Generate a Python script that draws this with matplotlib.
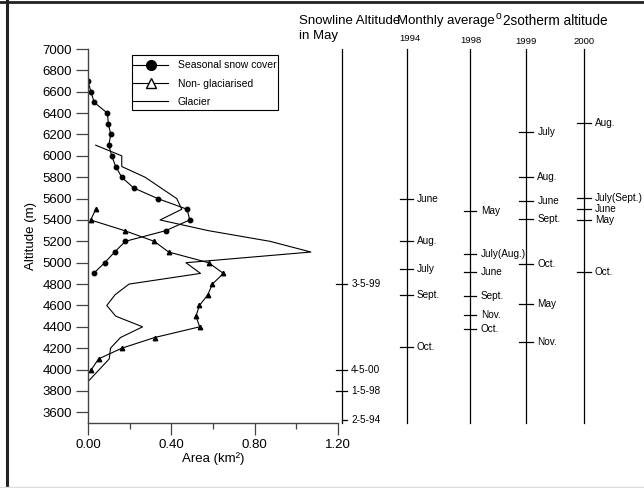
import matplotlib
matplotlib.use("Agg")
import matplotlib.pyplot as plt
from matplotlib.lines import Line2D
from matplotlib.patches import Rectangle

plt.rcParams['font.family'] = ['Liberation Sans', 'DejaVu Sans']

# ---- data ----
snow_alt = [6700, 6600, 6500, 6400, 6300, 6200, 6100, 6000, 5900, 5800, 5700, 5600,
            5500, 5400, 5300, 5200, 5100, 5000, 4900]
snow_area = [0.00, 0.014, 0.03, 0.093, 0.098, 0.109, 0.10, 0.114, 0.133, 0.162, 0.219,
             0.335, 0.476, 0.488, 0.373, 0.179, 0.128, 0.08, 0.027]

nong_alt = [5500, 5400, 5300, 5200, 5100, 5000, 4900, 4800, 4700, 4600, 4500, 4400,
            4300, 4200, 4100, 4000]
nong_area = [0.037, 0.013, 0.176, 0.318, 0.387, 0.579, 0.65, 0.597, 0.575, 0.535,
             0.518, 0.536, 0.32, 0.162, 0.051, 0.016]

glac_alt = [6100, 6000, 5900, 5800, 5600, 5500, 5400, 5300, 5200, 5100, 5000, 4900,
            4800, 4700, 4600, 4500, 4400, 4300, 4200, 4100, 3900]
glac_area = [0.037, 0.162, 0.162, 0.274, 0.426, 0.45, 0.346, 0.578, 0.874, 1.07, 0.47,
             0.54, 0.197, 0.13, 0.09, 0.133, 0.262, 0.156, 0.108, 0.102, 0.006]

snowline_dates = ['3-5-99', '4-5-00', '1-5-98', '2-5-94']
snowline_alt = [4800, 4000, 3800, 3530]

iso_1994_months = ['June', 'Aug.', 'July', 'Sept.', 'Oct.']
iso_1994_alt = [5600, 5200, 4940, 4700, 4210]
iso_1998_months = ['May', 'July(Aug.)', 'June', 'Sept.', 'Nov.', 'Oct.']
iso_1998_alt = [5480, 5080, 4910, 4690, 4510, 4380]
iso_1999_months = ['July', 'Aug.', 'June', 'Sept.', 'Oct.', 'May', 'Nov.']
iso_1999_alt = [6220, 5800, 5575, 5410, 4990, 4610, 4255]
iso_2000_months = ['Aug.', 'July(Sept.)', 'June', 'May', 'Oct.']
iso_2000_alt = [6310, 5610, 5505, 5400, 4910]

years = ['1994', '1998', '1999', '2000']

x_ticks = [0.0, 0.4, 0.8, 1.2]
x_ticklabels = ['0.00', '0.40', '0.80', '1.20']
y_ticks = list(range(3600, 7001, 200))

# ---- figure ----
W, H = 644, 488
fig = plt.figure(figsize=(W / 100, H / 100), dpi=100)
left, right, bottom, top = 88, 338, 423, 49
ax = fig.add_axes([left / W, 1 - bottom / H, (right - left) / W, (bottom - top) / H])

ax.plot(snow_area, snow_alt, color='black', lw=0.8, marker='o', ms=3.2,
        mfc='black', mec='black')
ax.plot(nong_area, nong_alt, color='black', lw=0.8, marker='^', ms=3.2,
        mfc='black', mec='black')
ax.plot(glac_area, glac_alt, color='black', lw=0.8)

ax.set_xlim(0, 1.2)
ax.set_ylim(3500, 7000)
ax.set_xticks(x_ticks)
ax.set_xticklabels(x_ticklabels)
ax.set_xticks([0.2, 0.6, 1.0], minor=True)
ax.set_yticks(y_ticks)
for s in ['top', 'right']:
    ax.spines[s].set_visible(False)
for s in ['left', 'bottom']:
    ax.spines[s].set_color('#444444')
    ax.spines[s].set_linewidth(1.0)
ax.tick_params(axis='both', which='major', direction='out', length=8.5, width=0.9,
               color='#444444', labelsize=9.5, pad=3)
ax.tick_params(axis='x', which='minor', direction='out', length=4, width=0.9,
               color='#444444')
ax.set_ylabel('Altitude (m)', fontsize=9.5, labelpad=4)
ax.set_xlabel('Area (km²)', fontsize=9.5, labelpad=1)

handles = [
    Line2D([], [], color='black', lw=0.8, marker='o', ms=7, mfc='black'),
    Line2D([], [], color='black', lw=0.8, marker='^', ms=7, mfc='white', mec='black'),
    Line2D([], [], color='black', lw=0.8),
]
leg = ax.legend(handles, ['Seasonal snow cover', 'Non- glaciarised', 'Glacier'],
                loc='upper left', bbox_to_anchor=(133 / W, 1 - 60.5 / H),
                bbox_transform=fig.transFigure, borderaxespad=0, fontsize=7.5,
                handlelength=3.4, handletextpad=0.9, labelspacing=0.78,
                borderpad=0.0, frameon=False)
fig.add_artist(Rectangle((132 / W, 1 - 109.5 / H), (277.5 - 132) / W, (109.5 - 55) / H,
                         transform=fig.transFigure, fill=False, edgecolor='black',
                         lw=0.8))

# ---- right-side altitude columns (same altitude scale) ----
ov = fig.add_axes([0, 1 - bottom / H, 1, (bottom - top) / H])
ov.set_xlim(0, W)
ov.set_ylim(3500, 7000)
ov.axis('off')

columns = [
    (341.7, snowline_dates, snowline_alt, 5.7, 9.5),
    (406.7, iso_1994_months, iso_1994_alt, 6.5, 9.8),
    (470.3, iso_1998_months, iso_1998_alt, 6.0, 10.5),
    (526.3, iso_1999_months, iso_1999_alt, 7.0, 11.0),
    (584.0, iso_2000_months, iso_2000_alt, 6.8, 11.0),
]
for xc, labels, alts, half, off in columns:
    ov.plot([xc, xc], [3500, 7000], color='black', lw=0.9, clip_on=False)
    for lab, a in zip(labels, alts):
        lo = xc if a < 3600 else xc - half
        ov.plot([lo, xc + half], [a, a], color='black', lw=0.9, clip_on=False)
        ov.text(xc + off, a, lab, fontsize=7.2, va='center', ha='left', clip_on=False)

year_x = [409.7, 470.7, 526.0, 584.0]
year_y = [38.5, 40.5, 42, 42]
for yr, xx, yy in zip(years, year_x, year_y):
    fig.text(xx / W, 1 - yy / H, yr, fontsize=6.8, ha='center', va='center')

# ---- headers ----
fig.text(299 / W, 1 - 21 / H, 'Snowline Altitude', fontsize=9.5, ha='left', va='center')
fig.text(299 / W, 1 - 36 / H, 'in May', fontsize=9.5, ha='left', va='center')
fig.text(397 / W, 1 - 21 / H, 'Monthly average', fontsize=9.5, ha='left', va='center')
fig.text(496 / W, 1 - 16 / H, 'o', fontsize=7.5, ha='left', va='center')
fig.text(503 / W, 1 - 21 / H, '2sotherm altitude', fontsize=9.8, ha='left', va='center')

# ---- frame around the figure ----
fig.add_artist(Line2D([6.5 / W, 6.5 / W], [0, 1], color='#222222', lw=2.2))
fig.add_artist(Line2D([0, 1], [1 - 1.5 / H, 1 - 1.5 / H], color='#222222', lw=2.0))
fig.add_artist(Line2D([0, 1], [1 - 486.5 / H, 1 - 486.5 / H], color='#dddddd', lw=1.0))

fig.savefig('out.png', dpi=100)
